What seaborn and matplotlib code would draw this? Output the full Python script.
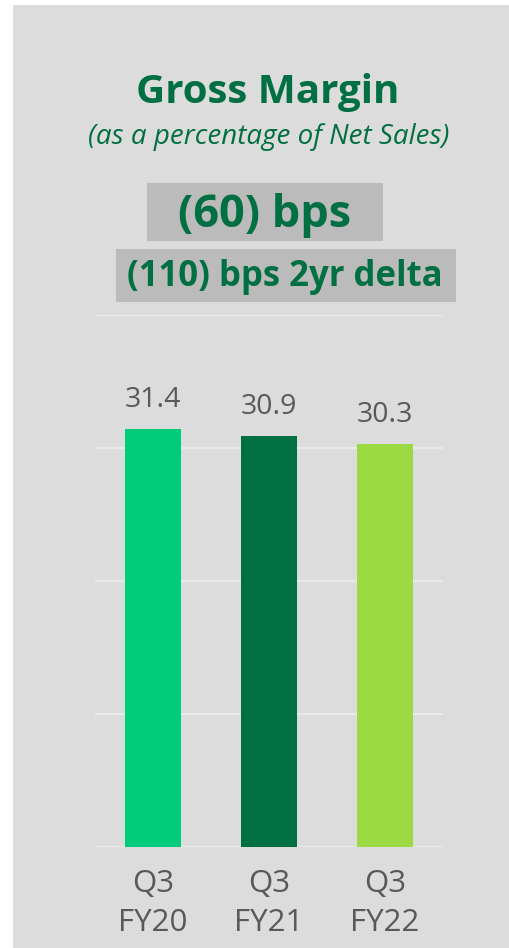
import matplotlib
matplotlib.use("Agg")
import matplotlib.pyplot as plt
import seaborn as sns
import pandas as pd
from matplotlib.patches import Rectangle

categories = ["Q3\nFY20", "Q3\nFY21", "Q3\nFY22"]
values = [31.4, 30.9, 30.3]
value_labels = ["31.4", "30.9", "30.3"]
bar_colors = ["#00CC7A", "#006F41", "#9CDA44"]
title = "Gross Margin"
subtitle = "(as a percentage of Net Sales)"
box1_text = "(60) bps"
box2_text = "(110) bps 2yr delta"

sns.set_theme(style="white")
plt.rcParams["font.family"] = ["Open Sans", "DejaVu Sans"]

W, H = 510, 948
fig = plt.figure(figsize=(W / 100, H / 100), dpi=100)
fig.patch.set_facecolor("white")
BG = "#DCDCDC"
fig.patches.append(Rectangle((13 / W, 0), 1 - 13 / W, 1 - 5 / H, transform=fig.transFigure,
                             facecolor=BG, edgecolor="none", zorder=-10))

ax_l, ax_r, ax_t, ax_b = 95, 443, 315, 847
ax = fig.add_axes([ax_l / W, 1 - ax_b / H, (ax_r - ax_l) / W, (ax_b - ax_t) / H])
ax.set_facecolor("none")

df = pd.DataFrame({"cat": categories, "val": values})
sns.barplot(data=df, x="cat", y="val", hue="cat", palette=bar_colors, legend=False,
            width=0.48, saturation=1, linewidth=0, ax=ax, zorder=3)
ax.set_ylim(0, 40)
ax.set_xlim(-0.5, 2.5)
ax.set_yticks([0, 10, 20, 30, 40])
ax.yaxis.grid(True, color="#E9E9E9", linewidth=1.6, zorder=1)
ax.set_axisbelow(True)
ax.tick_params(axis="y", left=False, labelleft=False)
ax.tick_params(axis="x", bottom=False, labelsize=22.5, labelcolor="#595959", pad=10)
for lab in ax.get_xticklabels():
    lab.set_linespacing(1.38)
for s in ax.spines.values():
    s.set_visible(False)
ax.set_xlabel("")
ax.set_ylabel("")

for i, (v, t) in enumerate(zip(values, value_labels)):
    ax.annotate(t, (i, v), xytext=(0, 11), textcoords="offset points", ha="center", va="bottom",
                fontsize=20.5, color="#595959")

GREEN = "#006F41"
fig.text(268 / W, 1 - 92 / H, title, ha="center", va="center", fontsize=29, fontweight="bold", color=GREEN)
fig.text(269 / W, 1 - 137 / H, subtitle, ha="center", va="center", fontsize=20, style="italic", color=GREEN)

fig.patches.append(Rectangle((147 / W, 1 - 241 / H), (383 - 147) / W, (241 - 183) / H,
                             transform=fig.transFigure, facecolor="#BBBBBB", edgecolor="none", zorder=1))
fig.patches.append(Rectangle((116 / W, 1 - 302 / H), (456 - 116) / W, (302 - 249) / H,
                             transform=fig.transFigure, facecolor="#BBBBBB", edgecolor="none", zorder=1))
fig.text(265 / W, 1 - 215 / H, box1_text, ha="center", va="center", fontsize=32.5, fontweight="bold", color=GREEN)
fig.text(285 / W, 1 - 277 / H, box2_text, ha="center", va="center", fontsize=25, fontweight="bold", color=GREEN)

fig.savefig("out.png", dpi=100)
